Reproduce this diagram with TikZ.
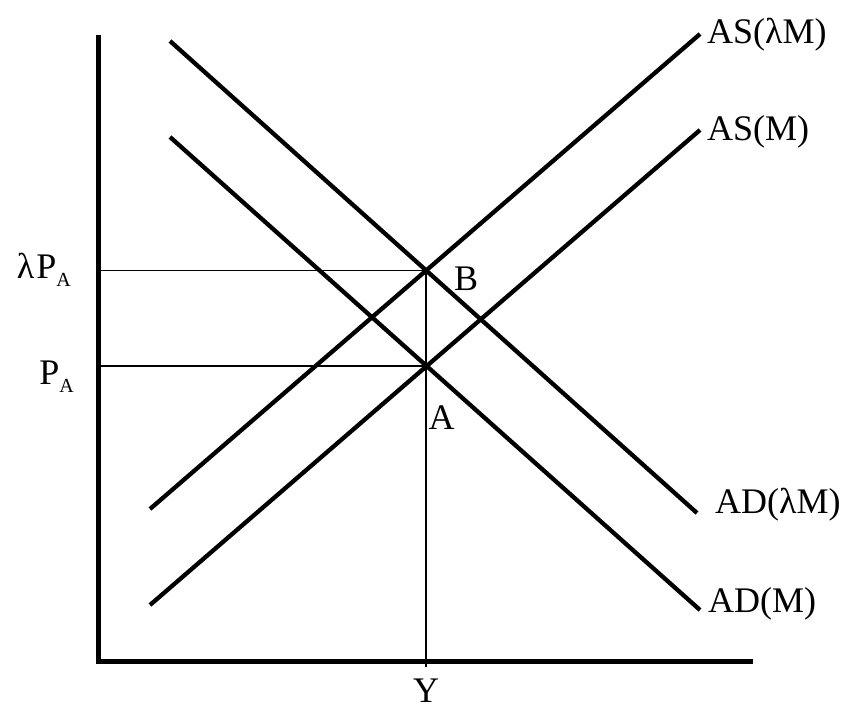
\documentclass[tikz,border=0pt]{standalone}
\usepackage{fontspec}
\setmainfont{Liberation Serif}
\usetikzlibrary{calc}
\newcommand{\lowsub}[1]{\raisebox{-8pt}{\fontsize{20}{20}\selectfont #1}}

\begin{document}
\begin{tikzpicture}[x=1pt, y=-1pt, curve/.style={line width=4.3pt}, axis/.style={line width=5pt}, guide/.style={line width=1.5pt}, lbl/.style={font=\fontsize{36}{40}\selectfont, inner sep=0pt}]
    \useasboundingbox (0,0) rectangle (852,720);
    % axes
    \coordinate (o) at (98,661);
    \coordinate (ytop) at (98,35);
    \coordinate (xend) at (753,661);
    % supply and demand curves
    \coordinate (asl0) at (150,509); \coordinate (asl1) at (700,34);
    \coordinate (as0) at (150,605); \coordinate (as1) at (700,130);
    \coordinate (adl0) at (170,41); \coordinate (adl1) at (697,513);
    \coordinate (ad0) at (170,137); \coordinate (ad1) at (700,610);
    \coordinate (B) at (intersection of asl0--asl1 and adl0--adl1);
    \coordinate (A) at (intersection of as0--as1 and ad0--ad1);
    \draw[guide] (B -| o) -- (B) -- ($(B |- o)+(0,6)$);
    \draw[guide] (A -| o) -- (A);
    \draw[axis] (ytop) -- (o) -- (xend);
    \draw[curve] (asl0) -- (asl1);
    \draw[curve] (as0) -- (as1);
    \draw[curve] (adl0) -- (adl1);
    \draw[curve] (ad0) -- (ad1);
    % labels
    \node[lbl, anchor=base west] (asltxt) at ($(asl1)+(7,9)$) {AS(λM)};
    \node[lbl, anchor=base west] (astxt) at ($(as1)+(7,10)$) {AS(M)};
    \node[lbl, anchor=base west] (adltxt) at ($(adl1)+(18,0)$) {AD(λM)};
    \node[lbl, anchor=base west] (adtxt) at ($(ad1)+(8,2)$) {AD(M)};
    \node[lbl, anchor=base east] (pbtxt) at ($(B -| o)+(-27,8)$) {λ\kern2pt P\lowsub{A}};
    \node[lbl, anchor=base east] (patxt) at ($(A -| o)+(-24,18)$) {P\lowsub{A}};
    \node[lbl, anchor=base] (btxt) at ($(B)+(40,20)$) {B};
    \node[lbl, anchor=base] (atxt) at ($(A)+(15,63)$) {A};
    \node[lbl, anchor=base] (ytxt) at ($(B |- o)+(0,41)$) {Y};
\end{tikzpicture}
\end{document}
